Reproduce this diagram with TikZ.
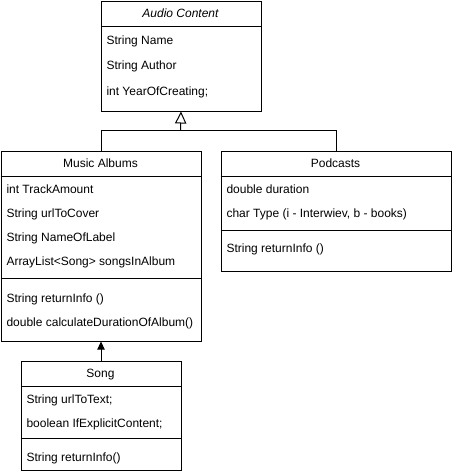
\documentclass[tikz,border=0pt]{standalone}
\usepackage{fontspec}
\setmainfont{Liberation Sans}
\usetikzlibrary{arrows.meta}
\begin{document}
\begin{tikzpicture}[x=0.75pt,y=-0.75pt,line width=0.75pt,
  cls/.style={draw,rectangle,inner sep=0pt,anchor=north west},
  txt/.style={anchor=west,inner sep=0pt,yshift=-0.75pt,font=\fontsize{9pt}{11pt}\selectfont,text height=7pt,text depth=2pt},
  ttl/.style={anchor=center,inner sep=0pt,yshift=-0.75pt,font=\fontsize{9pt}{11pt}\selectfont,text height=7pt,text depth=2pt}]
\useasboundingbox (0,0) rectangle (451,471);
% boxes
\node[cls,minimum width=120pt,minimum height=82.5pt] (ac) at (100.5,0.5) {};
\node[cls,minimum width=150pt,minimum height=142.5pt] (ma) at (0.5,150.5) {};
\node[cls,minimum width=172.5pt,minimum height=90pt] (pod) at (220.5,150.5) {};
\node[cls,minimum width=120pt,minimum height=81.75pt] (song) at (20.5,360.5) {};
% separators
\draw (ac.west |- 0,26.5) -- (ac.east |- 0,26.5);
\draw (ma.west |- 0,176.5) -- (ma.east |- 0,176.5);
\draw (ma.west |- 0,278.5) -- (ma.east |- 0,278.5);
\draw (pod.west |- 0,176.5) -- (pod.east |- 0,176.5);
\draw (pod.west |- 0,230.5) -- (pod.east |- 0,230.5);
\draw (song.west |- 0,386.5) -- (song.east |- 0,386.5);
\draw (song.west |- 0,438.5) -- (song.east |- 0,438.5);
% Audio Content
\node[ttl] (acT) at (180.5,13.5) {\itshape Audio Content};
\node[txt] (ac1) at (106,40) {String Name};
\node[txt] (ac2) at (106,65) {String Author};
\node[txt] (ac3) at (106,91) {int YearOfCreating;};
% Music Albums
\node[ttl] (maT) at (100.5,163.5) {Music Albums};
\node[txt] (ma1) at (6,189) {int TrackAmount};
\node[txt] (ma2) at (6,213) {String urlToCover};
\node[txt] (ma3) at (6,237) {String NameOfLabel};
\node[txt] (ma4) at (6,261) {ArrayList<Song> songsInAlbum};
\node[txt] (ma5) at (6,298) {String returnInfo ()};
\node[txt] (ma6) at (6,322) {double calculateDurationOfAlbum()};
% Podcasts
\node[ttl] (podT) at (335.5,163.5) {Podcasts};
\node[txt] (pod1) at (226,189) {double duration};
\node[txt] (pod2) at (226,213) {char Type (i - Interwiev, b - books)};
\node[txt] (pod3) at (226,248) {String returnInfo ()};
% Song
\node[ttl] (songT) at (100.5,373.5) {Song};
\node[txt] (song1) at (26,399) {String urlToText;};
\node[txt] (song2) at (26,423) {boolean IfExplicitContent;};
\node[txt] (song3) at (26,457) {String returnInfo()};
% connectors
\coordinate (j) at (180.5,130.5);
\draw (ma.north) |- (j) -| (pod.north);
\draw[-{Triangle[open,length=9pt,width=8.5pt]}] (j) -- (ac.south);
\draw[-{Triangle[length=6pt,width=5.5pt]}] (song.north) -- (ma.south);
\end{tikzpicture}
\end{document}
